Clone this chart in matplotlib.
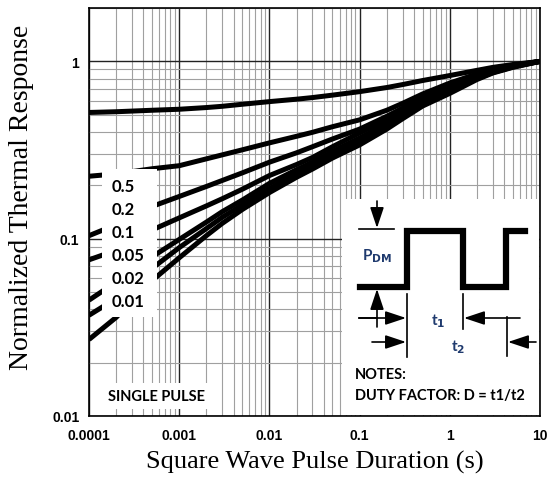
import matplotlib.pyplot as plt
from matplotlib.patches import Rectangle
from matplotlib.ticker import LogLocator, NullFormatter, FixedLocator, FixedFormatter

# pulse duration (s)
t = [1e-4, 2e-4, 5e-4, 1e-3, 2e-3, 3e-3, 5e-3, 1e-2, 2e-2, 3e-2, 5e-2,
     0.1, 0.2, 0.3, 0.5, 1, 2, 3, 5, 10]

# normalized thermal response for each duty factor
d_05 = [0.515, 0.52, 0.53, 0.537, 0.549, 0.558, 0.573, 0.593, 0.612, 0.625, 0.645,
        0.675, 0.712, 0.74, 0.78, 0.832, 0.89, 0.925, 0.96, 1.0]
d_02 = [0.225, 0.232, 0.248, 0.258, 0.282, 0.297, 0.317, 0.347, 0.378, 0.398, 0.428,
        0.468, 0.53, 0.58, 0.655, 0.755, 0.85, 0.9, 0.95, 1.0]
d_01 = [0.104, 0.12, 0.152, 0.173, 0.197, 0.213, 0.235, 0.27, 0.305, 0.33, 0.365,
        0.415, 0.49, 0.545, 0.625, 0.73, 0.835, 0.89, 0.945, 1.0]
d_005 = [0.076, 0.086, 0.112, 0.131, 0.153, 0.168, 0.19, 0.227, 0.262, 0.287, 0.33,
         0.395, 0.47, 0.525, 0.605, 0.71, 0.82, 0.88, 0.94, 1.0]
d_002 = [0.045, 0.057, 0.079, 0.099, 0.124, 0.142, 0.165, 0.205, 0.245, 0.27, 0.31,
         0.37, 0.445, 0.505, 0.585, 0.69, 0.81, 0.87, 0.935, 1.0]
d_001 = [0.037, 0.046, 0.068, 0.089, 0.114, 0.132, 0.155, 0.192, 0.232, 0.257, 0.295,
         0.352, 0.43, 0.49, 0.57, 0.675, 0.8, 0.865, 0.93, 1.0]
single = [0.027, 0.036, 0.058, 0.078, 0.104, 0.122, 0.146, 0.182, 0.222, 0.247, 0.285,
          0.338, 0.415, 0.475, 0.56, 0.66, 0.79, 0.86, 0.925, 1.0]

curves = [d_05, d_02, d_01, d_005, d_002, d_001, single]
labels = ["0.5", "0.2", "0.1", "0.05", "0.02", "0.01"]

xticks = [1e-4, 1e-3, 1e-2, 0.1, 1, 10]
xticklabels = ["0.0001", "0.001", "0.01", "0.1", "1", "10"]
yticks = [0.01, 0.1, 1]
yticklabels = ["0.01", "0.1", "1"]

calibri = ["Lato", "DejaVu Sans"]

fig = plt.figure(figsize=(5.5, 4.81), dpi=100)
ax = fig.add_axes([89 / 550, 64 / 481, 451 / 550, 408 / 481])

for c in curves:
    ax.plot(t, c, color="black", lw=3.6, solid_capstyle="butt", zorder=2)

ax.set_xscale("log")
ax.set_yscale("log")
ax.set_xlim(1e-4, 10)
ax.set_ylim(0.01, 2)
ax.set_axisbelow(True)

ax.xaxis.set_major_locator(FixedLocator(xticks))
ax.xaxis.set_major_formatter(FixedFormatter(xticklabels))
ax.yaxis.set_major_locator(FixedLocator(yticks))
ax.yaxis.set_major_formatter(FixedFormatter(yticklabels))
ax.xaxis.set_minor_locator(LogLocator(base=10, subs=range(2, 10)))
ax.yaxis.set_minor_locator(LogLocator(base=10, subs=range(2, 10)))
ax.xaxis.set_minor_formatter(NullFormatter())
ax.yaxis.set_minor_formatter(NullFormatter())

ax.grid(which="major", color="#222222", lw=1.0)
ax.grid(which="minor", color="#a0a0a0", lw=0.8)
ax.tick_params(which="both", length=0)
ax.tick_params(axis="x", pad=9)
ax.tick_params(axis="y", pad=7)
for lab in ax.get_xticklabels() + ax.get_yticklabels():
    lab.set_fontfamily("Liberation Sans")
    lab.set_fontweight("bold")
    lab.set_fontsize(10)
for s in ax.spines.values():
    s.set_color("black")
    s.set_linewidth(1.2)

ax.set_xlabel("Square Wave Pulse Duration (s)", family="Liberation Serif", fontsize=19, labelpad=5)
ax.set_ylabel("Normalized Thermal Response", family="Liberation Serif", fontsize=20)
ax.yaxis.set_label_coords(-0.122, 0.539)

# white box behind duty factor labels
ax.add_patch(Rectangle((0.029, 0.243), 0.122, 0.362, transform=ax.transAxes,
                       facecolor="white", edgecolor="none", zorder=3))
for i, lab in enumerate(labels):
    ax.text(0.051, 0.5637 - i * 0.0564, lab, transform=ax.transAxes, va="center", ha="left",
            family=calibri, fontweight="bold", fontsize=12, zorder=4)

ax.text(0.042, 0.049, "SINGLE PULSE", transform=ax.transAxes, va="center", ha="left",
        family=calibri, fontweight="bold", fontsize=10.5,
        bbox=dict(facecolor="white", edgecolor="none", pad=4), zorder=4)

# notes inset with the pulse diagram (pixel-like coordinates inside the box)
nx = fig.add_axes([342 / 550, 65 / 481, 197 / 550, 216 / 481], zorder=5)
nx.set_xlim(0, 197)
nx.set_ylim(216, 0)
nx.set_xticks([])
nx.set_yticks([])
for s in nx.spines.values():
    s.set_visible(False)
nx.set_facecolor("white")

wave_x = [18, 65, 65, 121, 121, 164, 164, 183]
wave_y = [88, 88, 32, 32, 88, 88, 32, 32]
nx.plot(wave_x, wave_y, color="black", lw=4.5, solid_joinstyle="miter")

ln = dict(color="black", lw=1.2)
nx.plot([17, 52], [30, 30], **ln)
nx.plot([65, 65], [95, 158], **ln)
nx.plot([121, 121], [95, 130], **ln)
nx.plot([165, 165], [118, 157], **ln)
nx.plot([17, 35], [119, 119], **ln)

arr = dict(arrowstyle="-|>,head_length=0.9,head_width=0.3", color="black", lw=1.2,
           mutation_scale=14, shrinkA=0, shrinkB=0)
nx.annotate("", xy=(35, 29), xytext=(35, 2), arrowprops=arr)
nx.annotate("", xy=(35, 90), xytext=(35, 128), arrowprops=arr)
nx.annotate("", xy=(64, 119), xytext=(17, 119), arrowprops=arr)
nx.annotate("", xy=(122, 119), xytext=(178, 119), arrowprops=arr)
nx.annotate("", xy=(64, 143), xytext=(30, 143), arrowprops=arr)
nx.annotate("", xy=(166, 143), xytext=(194, 143), arrowprops=arr)

blue = "#1f3a6e"
nx.text(35, 56, r"P$_{\mathbf{DM}}$", ha="center", va="center", color=blue,
        family=calibri, fontweight="bold", fontsize=11)
nx.text(96, 121, r"t$_{\mathbf{1}}$", ha="center", va="center", color=blue,
        family=calibri, fontweight="bold", fontsize=11)
nx.text(116, 147, r"t$_{\mathbf{2}}$", ha="center", va="center", color=blue,
        family=calibri, fontweight="bold", fontsize=11)
nx.text(13, 175, "NOTES:", ha="left", va="center", family=calibri, fontweight="bold", fontsize=10.5)
nx.text(13, 196, "DUTY FACTOR: D = t1/t2", ha="left", va="center", family=calibri,
        fontweight="bold", fontsize=10.5)

fig.savefig("out.png", dpi=100)
